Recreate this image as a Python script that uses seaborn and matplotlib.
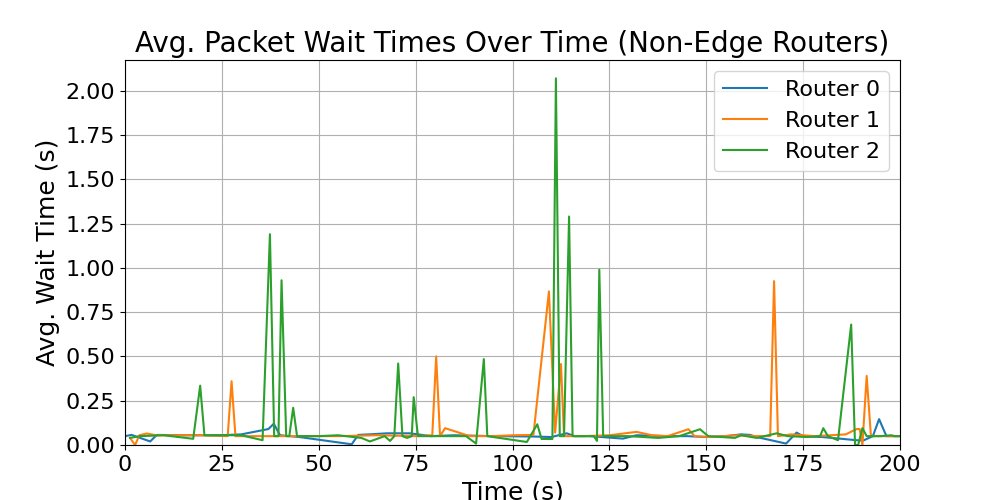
import pandas as pd
import numpy as np
import matplotlib
matplotlib.use('Agg')
import matplotlib.pyplot as plt
from matplotlib.ticker import MultipleLocator, FormatStrFormatter
import seaborn as sns

# readings per router (time in s, avg wait in s)
t0 = [0, 1.7, 6.5, 8.2, 15, 20, 24.5, 30, 37, 38.4, 40, 45, 58.5, 60.2, 63, 67.6, 73.5, 79, 85, 95,
      105, 110, 114, 116, 120, 128.5, 132, 140, 145, 150, 155, 159, 161.3, 163, 170.6, 173.3, 175, 180,
      188.8, 190.5, 193, 194.6, 196.5, 200]
w0 = [0.05, 0.057, 0.02, 0.057, 0.055, 0.055, 0.055, 0.06, 0.09, 0.12, 0.055, 0.045, 0.004, 0.057, 0.06,
      0.066, 0.066, 0.05, 0.055, 0.05, 0.048, 0.045, 0.066, 0.05, 0.05, 0.036, 0.055, 0.05, 0.05, 0.045,
      0.05, 0.06, 0.057, 0.045, 0.008, 0.07, 0.05, 0.045, 0.027, 0.025, 0.05, 0.146, 0.05, 0.05]

t1 = [1.3, 2.6, 3.7, 5.6, 8, 15, 20, 26.5, 27.5, 28.5, 35, 45, 55, 65, 75, 79.3, 80.3, 81.3, 82.6, 89,
      95, 100, 105.4, 109.4, 111, 112.5, 113.3, 118, 125, 132, 136, 140, 145.4, 147, 151, 158, 163, 166.5,
      167.5, 168.5, 172, 178, 186, 188.8, 189.6, 190.3, 191.4, 192.5, 196, 200]
w1 = [0.04, 0.0, 0.055, 0.065, 0.055, 0.055, 0.055, 0.05, 0.36, 0.05, 0.05, 0.05, 0.05, 0.055, 0.05,
      0.055, 0.5, 0.05, 0.095, 0.05, 0.05, 0.055, 0.057, 0.867, 0.07, 0.457, 0.05, 0.05, 0.055, 0.074,
      0.055, 0.05, 0.089, 0.05, 0.045, 0.055, 0.05, 0.05, 0.925, 0.05, 0.06, 0.05, 0.06, 0.09, 0.09, 0.0,
      0.39, 0.05, 0.05, 0.05]

t2 = [1.3, 3.9, 10, 17.6, 19.4, 20.5, 25, 30, 35.5, 37.4, 38.5, 39.6, 40.4, 41.6, 42.4, 43.4, 44.4, 50,
      55, 58.9, 61, 63.2, 67, 68.4, 69.5, 70.5, 71.6, 72.8, 74, 74.5, 75.6, 82, 88, 90.6, 92.6, 93.5,
      103.7, 106.4, 107.5, 110.3, 111.2, 112.2, 113.3, 114.6, 115.5, 121, 121.8, 122.4, 123.4, 130, 137.6,
      143, 148.4, 150.5, 157.4, 159, 163, 168.2, 171, 176, 179.4, 180.2, 181.4, 184, 187.4, 188.4, 189.2,
      190.3, 191.4, 195, 197.8, 198.6, 200]
w2 = [0.04, 0.05, 0.055, 0.035, 0.335, 0.055, 0.055, 0.055, 0.027, 1.19, 0.05, 0.05, 0.93, 0.05, 0.05,
      0.21, 0.05, 0.05, 0.055, 0.045, 0.04, 0.02, 0.05, 0.023, 0.05, 0.46, 0.05, 0.04, 0.05, 0.27, 0.05,
      0.05, 0.05, 0.008, 0.485, 0.05, 0.017, 0.117, 0.034, 0.034, 2.07, 0.05, 0.05, 1.29, 0.05, 0.05,
      0.023, 0.99, 0.05, 0.05, 0.04, 0.05, 0.089, 0.05, 0.04, 0.055, 0.04, 0.066, 0.05, 0.045, 0.05,
      0.095, 0.05, 0.027, 0.68, 0.0, 0.0, 0.095, 0.05, 0.05, 0.055, 0.05, 0.05]

routers = ['Router 0', 'Router 1', 'Router 2']

df = pd.concat([
    pd.DataFrame({'time': t, 'wait': w, 'router': r})
    for t, w, r in zip([t0, t1, t2], [w0, w1, w2], routers)
], ignore_index=True)

fig, ax = plt.subplots(figsize=(10, 5), dpi=100)
sns.lineplot(data=df, x='time', y='wait', hue='router', hue_order=routers,
             estimator=None, palette='tab10', linewidth=1.5, ax=ax)

ax.set_title('Avg. Packet Wait Times Over Time (Non-Edge Routers)', fontsize=20)
ax.set_xlabel('Time (s)', fontsize=18)
ax.set_ylabel('Avg. Wait Time (s)', fontsize=18)
ax.tick_params(labelsize=16)
ax.set_xlim(0, 200)
ax.set_ylim(bottom=0)
ax.yaxis.set_major_locator(MultipleLocator(0.25))
ax.yaxis.set_major_formatter(FormatStrFormatter('%.2f'))
ax.grid(True)
ax.legend(fontsize=16, loc='upper right')

fig.savefig('out.png')
